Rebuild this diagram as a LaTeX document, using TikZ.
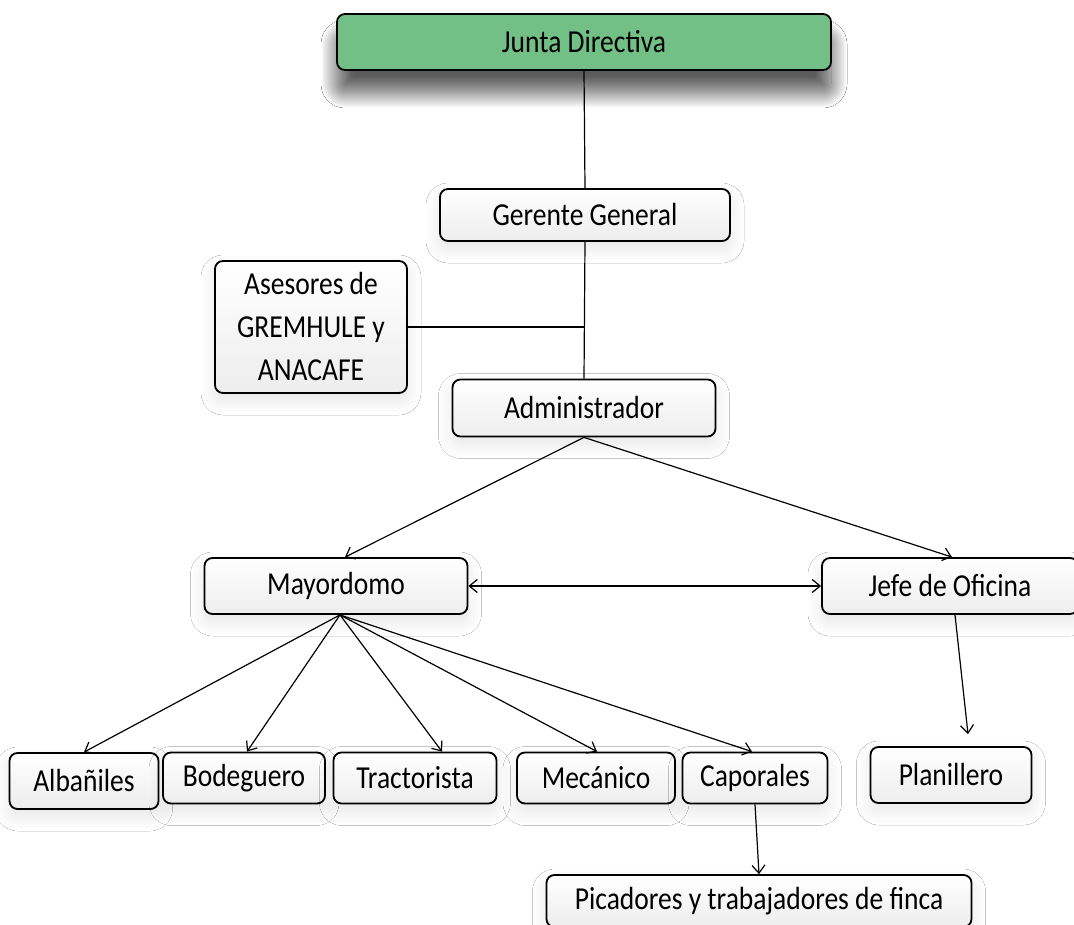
\documentclass[tikz,border=0pt]{standalone}
\usepackage{fontspec}
\setmainfont{Carlito}[FakeStretch=0.86]
\usetikzlibrary{arrows.meta,shadows.blur}
\definecolor{verdejunta}{RGB}{115,192,134}
\tikzset{
  caja/.style={draw, line width=1.8pt, rounded corners=8pt, top color=white, bottom color=gray!14,
    font=\fontsize{32}{43}\selectfont, minimum height=52pt, inner sep=4pt,
    blur shadow={shadow xshift=0pt, shadow yshift=-8pt, shadow blur radius=14pt, shadow blur steps=16, shadow opacity=10}},
  flecha/.style={line width=1.2pt, -{Straight Barb[length=8pt,width=13pt]}},
  linea/.style={line width=1.2pt}
}
\begin{document}
\begin{tikzpicture}[x=1pt, y=-1pt]
  \useasboundingbox[fill=white] (0,0) rectangle (1074,925);
  % niveles superiores
  \node[caja, fill=verdejunta, top color=verdejunta, bottom color=verdejunta, minimum width=494pt, minimum height=56pt,
    blur shadow={shadow xshift=0pt, shadow yshift=-22pt, shadow blur radius=16pt, shadow blur steps=24, shadow opacity=40}] (junta) at (584,42) {Junta Directiva};
  \node[caja, minimum width=290pt] (gerente) at (585,215) {Gerente General};
  \node[caja, minimum width=192pt, minimum height=132pt, align=center] (asesores) at (311,327) {Asesores de\\GREMHULE y\\ANACAFE};
  \node[caja, minimum width=263pt, minimum height=57pt] (admin) at (584,408) {Administrador};
  \node[caja, minimum width=263pt, minimum height=56pt] (mayordomo) at (336,586) {Mayordomo};
  \node[caja, minimum width=256pt, minimum height=56pt] (jefe) at (950,586) {Jefe de Oficina};
  % trabajadores
  \node[caja, minimum width=149pt, minimum height=56pt] (albaniles) at (84,781) {Albañiles};
  \node[caja, minimum width=162pt, minimum height=51pt] (bodeguero) at (244,778) {Bodeguero};
  \node[caja, minimum width=163pt, minimum height=51pt] (tractorista) at (415,778) {Tractorista};
  \node[caja, minimum width=158pt, minimum height=51pt] (mecanico) at (596,778) {Mecánico};
  \node[caja, minimum width=145pt, minimum height=51pt] (caporales) at (755,778) {Caporales};
  \node[caja, minimum width=161pt, minimum height=56pt] (planillero) at (951,775) {Planillero};
  \node[caja, minimum width=425pt, minimum height=52pt] (picadores) at (759,901) {Picadores y trabajadores de finca};

  \draw[linea] (junta.south) -- (gerente.north);
  \draw[linea] (gerente.south) -- (admin.north);
  \draw[linea] (asesores.east) -- (asesores.east -| admin.north);
  \draw[flecha] (admin.south) -- ([xshift=9pt]mayordomo.north);
  \draw[flecha] (admin.south) -- ([xshift=2pt]jefe.north);
  \draw[line width=1.2pt, {Straight Barb[length=8pt,width=13pt]}-{Straight Barb[length=8pt,width=13pt]}] (mayordomo.east) -- (jefe.west);
  \draw[flecha] ([xshift=4pt]mayordomo.south) -- (albaniles.north);
  \draw[flecha] ([xshift=4pt]mayordomo.south) -- ([xshift=3pt]bodeguero.north);
  \draw[flecha] ([xshift=4pt]mayordomo.south) -- ([xshift=27pt]tractorista.north);
  \draw[flecha] ([xshift=4pt]mayordomo.south) -- ([xshift=1pt]mecanico.north);
  \draw[flecha] ([xshift=4pt]mayordomo.south) -- ([xshift=-3pt]caporales.north);
  \draw[flecha] ([xshift=5pt]jefe.south) -- ([xshift=17pt,yshift=12pt]planillero.north);
  \draw[flecha] (caporales.south) -- (picadores.north);
\end{tikzpicture}
\end{document}
